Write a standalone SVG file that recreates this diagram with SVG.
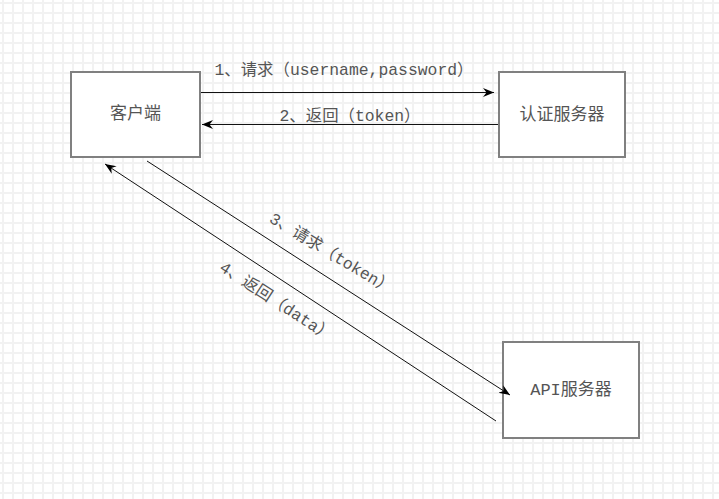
<svg xmlns="http://www.w3.org/2000/svg" width="719" height="499" viewBox="0 0 719 499">
  <defs>
    <pattern id="grid" patternUnits="userSpaceOnUse" x="2" y="2" width="10" height="10">
      <rect x="0" y="0" width="2" height="10" fill="#f2f2f2"/>
      <rect x="0" y="0" width="10" height="2" fill="#f2f2f2"/>
    </pattern>
    <marker id="arrow" markerUnits="userSpaceOnUse" markerWidth="12" markerHeight="10" refX="11" refY="5" orient="auto">
      <path d="M0,0.5 L11,5 L0,9.5 L3.5,5 z" fill="#000"/>
    </marker>
    <style>
      .box { fill: #ffffff; stroke: #808080; stroke-width: 2; }
      .node-label { font-family: "Liberation Mono", "Noto Sans CJK SC", monospace; font-size: 17px; fill: #555; text-anchor: middle; dominant-baseline: central; }
      .edge { fill: none; stroke: #111; stroke-width: 1; marker-end: url(#arrow); }
      .edge-label { font-family: "Liberation Mono", "Noto Sans CJK SC", monospace; font-size: 16.4px; fill: #555; text-anchor: middle; dominant-baseline: central; }
    </style>
  </defs>
  <rect x="0" y="0" width="719" height="499" fill="#ffffff"/>
  <rect x="0" y="0" width="719" height="499" fill="url(#grid)"/>

  <g id="client">
    <rect class="box" x="71" y="72" width="129" height="85"/>
    <text class="node-label" x="135.5" y="114.5">客户端</text>
  </g>
  <g id="auth-server">
    <rect class="box" x="499" y="72" width="126" height="85"/>
    <text class="node-label" x="562" y="115">认证服务器</text>
  </g>
  <g id="api-server">
    <rect class="box" x="503" y="342" width="136" height="96"/>
    <text class="node-label" x="571" y="390">API服务器</text>
  </g>

  <g id="connectors">
    <line class="edge" x1="201" y1="92.5" x2="494" y2="92.5"/>
    <line class="edge" x1="498" y1="124.5" x2="202" y2="124.5"/>
    <line class="edge" x1="147" y1="161" x2="510" y2="395"/>
    <line class="edge" x1="496" y1="421" x2="105" y2="164"/>
    <text class="edge-label" x="344" y="70">1、请求（username,password）</text>
    <text class="edge-label" x="350" y="116">2、返回（token）</text>
    <text class="edge-label" x="331" y="254" transform="rotate(31 331 254)">3、请求（token）</text>
    <text class="edge-label" x="276" y="302" transform="rotate(33 276 302)">4、返回（data）</text>
  </g>
</svg>
